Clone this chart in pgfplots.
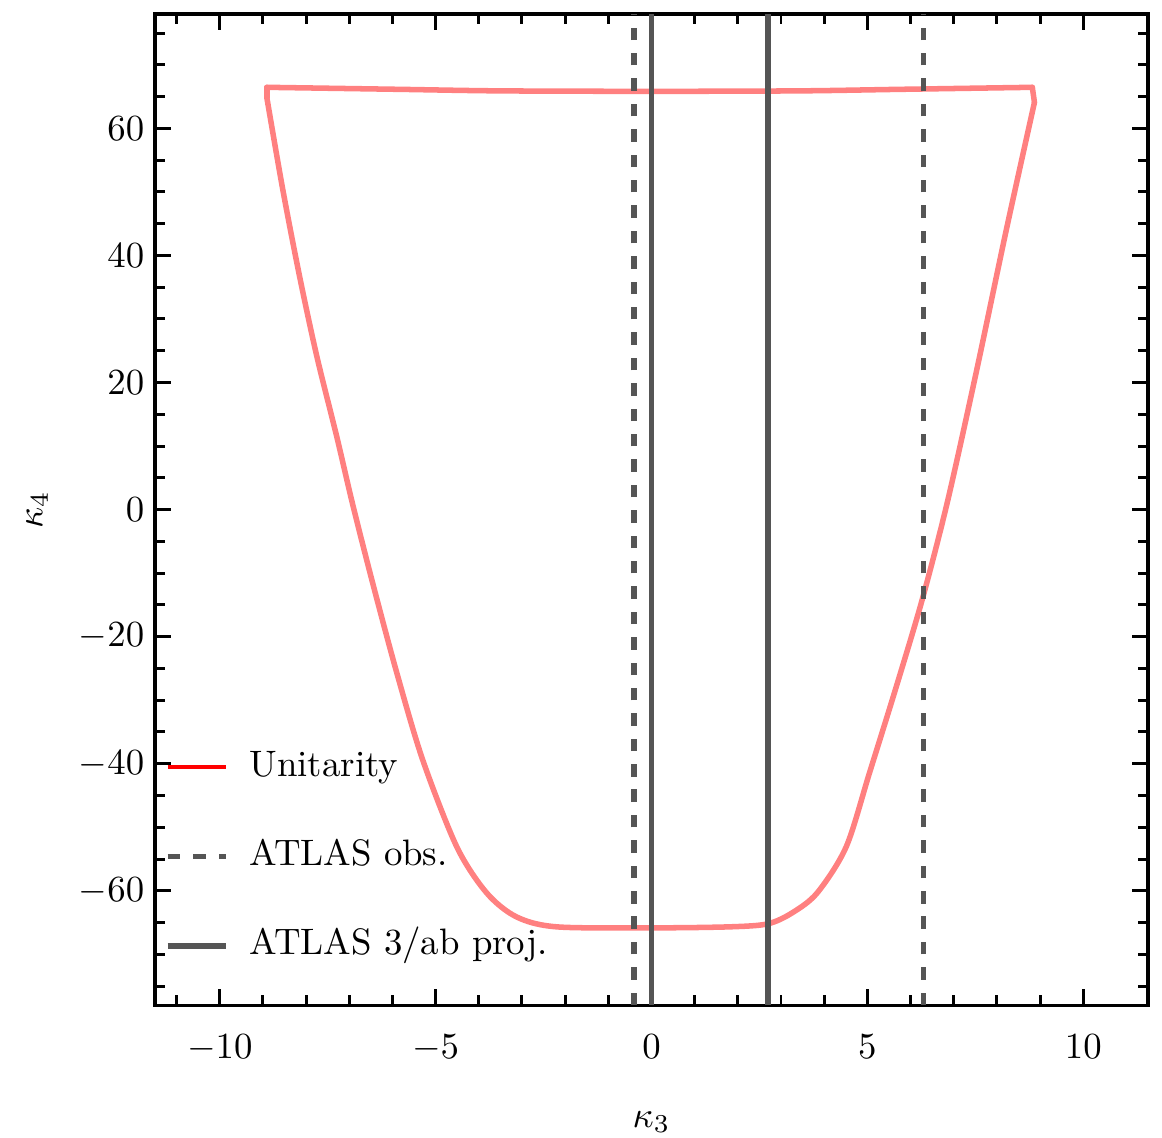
\documentclass[border=0pt]{standalone}
\usepackage{pgfplots}
\pgfplotsset{compat=1.18}
\definecolor{unit}{RGB}{255,128,128}
\definecolor{atl}{RGB}{85,85,85}
\begin{document}
\begin{tikzpicture}
\begin{axis}[
  scale only axis,
  width=269.8pt, height=269.3pt,
  xmin=-11.5, xmax=11.5, ymin=-78, ymax=78,
  xtick distance=5, ytick distance=20,
  minor x tick num=4, minor y tick num=3,
  tick align=inside, tick pos=both,
  major tick length=4.3pt, minor tick length=2.7pt,
  every tick/.style={black, line width=0.8pt},
  axis line style={line width=0.9pt},
  xticklabel style={yshift=-4.4pt},
  yticklabel style={xshift=0.6pt},
  xlabel={$\kappa_3$}, ylabel={$\kappa_4$},
  xlabel style={at={(axis description cs:0.5,0)}, anchor=center, yshift=-31.8pt},
  ylabel style={at={(axis description cs:0,0.5)}, anchor=center, yshift=32pt},
  legend style={at={(axis description cs:0.009,0.150)}, anchor=west, draw=none, fill=none, inner sep=0pt,
    row sep=11.2pt, nodes={text height=7pt, text depth=2pt},
    /tikz/every odd column/.append style={column sep=3.7pt}},
  legend cell align=left,
  legend image code/.code={\draw[#1] (0pt,0pt) -- (15.8pt,0pt);},
]
% top edge
\addplot[unit, line width=1.5pt, line cap=round, smooth, forget plot] coordinates {
(-8.91,66.46) (-5.83,66.14) (-3.52,65.90) (0,65.83) (3.43,65.90) (5.74,66.14) (8.82,66.46)
};
% corners
\addplot[unit, line width=1.5pt, line cap=round, line join=round, forget plot] coordinates {
(-8.91,64.88) (-8.91,66.46)
};
\addplot[unit, line width=1.5pt, line cap=round, line join=round, forget plot] coordinates {
(8.82,66.46) (8.87,64.09)
};
% U-shaped part
\addplot[unit, line width=1.5pt, line cap=round, smooth, tension=0.5, forget plot] coordinates {
(8.87,64.09) (8.22,44.09) (7.52,21.57) (6.85,1.10) (6.27,-14.17) (5.67,-27.87) (5.05,-41.42)
(4.51,-53.07) (3.84,-60.31) (3.26,-63.46) (2.69,-65.20) (1.81,-65.67) (0,-65.83)
(-2.20,-65.67) (-3.13,-64.09) (-3.82,-60.31) (-4.51,-53.07) (-5.30,-39.37) (-5.90,-25.67)
(-6.46,-11.50) (-6.92,0.80) (-7.29,11.50) (-7.75,24.09) (-8.15,36.69) (-8.54,50.39) (-8.91,64.88)
};
\addplot[atl, line width=1.6pt, dash pattern=on 3.4pt off 3.5pt, forget plot] coordinates {(-0.4,-78) (-0.4,78)};
\addplot[atl, line width=1.6pt, dash pattern=on 3.4pt off 3.5pt, forget plot] coordinates {(6.3,-78) (6.3,78)};
\addplot[atl, line width=1.6pt, forget plot] coordinates {(0,-78) (0,78)};
\addplot[atl, line width=1.6pt, forget plot] coordinates {(2.7,-78) (2.7,78)};
\addlegendimage{red, line width=1.1pt}
\addlegendentry{Unitarity}
\addlegendimage{atl, line width=1.6pt, dash pattern=on 3.5pt off 3.5pt}
\addlegendentry{ATLAS obs.}
\addlegendimage{atl, line width=1.6pt}
\addlegendentry{ATLAS 3/ab proj.}
\end{axis}
\pgfresetboundingbox
\path ([shift={(-42.1pt,-35.9pt)}]current axis.south west) rectangle ([shift={(3.8pt,3.8pt)}]current axis.north east);
\end{tikzpicture}
\end{document}
